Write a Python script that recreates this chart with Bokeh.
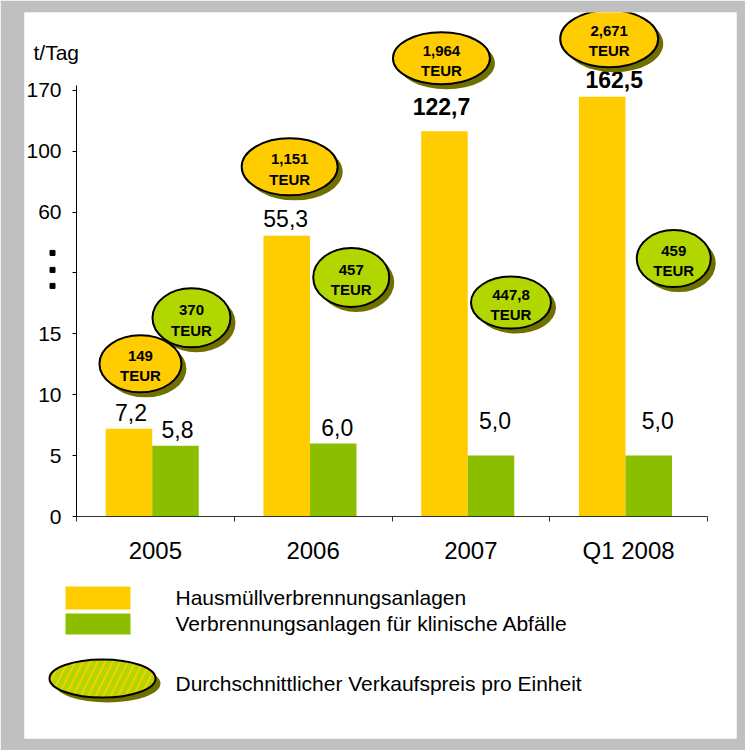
import numpy as np
from bokeh.plotting import figure
from bokeh.models import Range1d, LinearAxis, FixedTicker, ColumnDataSource
from bokeh.embed import file_html
from bokeh.resources import INLINE
from bokeh.core.properties import value

# ---------------- data ----------------
CATEGORIES = ["2005", "2006", "2007", "Q1 2008"]
HAUSMUELL = [7.2, 55.3, 122.7, 162.5]          # t/Tag
KLINISCH = [5.8, 6.0, 5.0, 5.0]                # t/Tag
PREIS_HAUSMUELL = ["149", "1,151", "1,964", "2,671"]   # TEUR
PREIS_KLINISCH = ["370", "457", "447,8", "459"]        # TEUR
Y_TICK_VALUES = [0, 5, 10, 15, 48, 60, 100, 170]       # broken-axis breakpoints
Y_TICK_LABELS = ["0", "5", "10", "15", "", "60", "100", "170"]
SERIES_NAMES = ["Hausmüllverbrennungsanlagen",
                "Verbrennungsanlagen für klinische Abfälle"]
BUBBLE_LEGEND = "Durchschnittlicher Verkaufspreis pro Einheit"
Y_UNIT = "t/Tag"
UNIT_PRICE = "TEUR"

# ---------------- styles / layout ----------------
YELLOW = "#FFCC00"
GREEN = "#8CBE00"
BUBBLE_GREEN = "#B2D600"
SHADOW = "#707000"
FRAME_GRAY = "#C0C0C0"
FONT = "Liberation Sans"

W, H = 745, 750
ML, MR, MT, MB = 24, 9, 12, 12
FRAME_W, FRAME_H = W - ML - MR, H - MT - MB
PX_X = 157.75      # pixels per category
PX_Y = 60.9        # pixels per axis step
X0_PX = 52         # frame left -> x = 0
Y0_PX = 222        # frame bottom -> y = 0
REF_X0, REF_Y0 = 76, 516   # picture position of the axis origin

BAR_W = 0.295
SPLIT = 0.48

# per-label pixel offsets (dx, gap above bar)
BASELINE_FIX = 10
VAL_DX_Y = [2, -1, -3, 12]
VAL_GAP_Y = [6, 7, 15, 7]
VAL_DX_G = [2, 4, 4, 9]
VAL_GAP_G = [6, 6, 25, 25]
VAL_BOLD_Y = [False, False, True, True]
# bubble offsets from bar top (px) and sizes (px)
BUB_OFF_Y = [(11.5, -65), (3, -69), (-3, -73), (7, -58)]
BUB_OFF_G = [(16, -128), (18, -166), (20, -153), (25, -197)]
BUB_W_Y = [82, 96, 97, 98]
BUB_H_Y = [57, 57, 52, 57]
BUB_W_G = [78, 76, 80, 74]
BUB_H_G = [59, 59, 52, 57]
SHADOW_DX, SHADOW_DY = 5, 5


def to_pos(vals):
    return np.interp(vals, Y_TICK_VALUES, np.arange(len(Y_TICK_VALUES)))


def dxd(px):
    return np.asarray(px, dtype=float) / PX_X


def dyd(px):  # screen px (down positive) -> data
    return -np.asarray(px, dtype=float) / PX_Y


def X(px):
    return (np.asarray(px, dtype=float) - REF_X0) / PX_X


def Y(py):
    return (REF_Y0 - np.asarray(py, dtype=float)) / PX_Y


def fmt(v):
    return f"{v:.1f}".replace(".", ",")


p = figure(width=W, height=H, output_backend="svg", toolbar_location=None,
           title=None, x_axis_type=None, y_axis_type=None,
           x_range=Range1d(-X0_PX / PX_X, -X0_PX / PX_X + FRAME_W / PX_X),
           y_range=Range1d(-Y0_PX / PX_Y, -Y0_PX / PX_Y + FRAME_H / PX_Y),
           min_border_left=ML, min_border_right=MR,
           min_border_top=MT, min_border_bottom=MB)
p.border_fill_color = FRAME_GRAY
p.background_fill_color = "white"
p.outline_line_color = None

xc = np.arange(len(CATEGORIES)) + SPLIT
xy = xc - BAR_W / 2
xg = xc + BAR_W / 2
ty = to_pos(HAUSMUELL)
tg = to_pos(KLINISCH)

p.vbar(x=xy, top=ty, bottom=0, width=BAR_W, fill_color=YELLOW, line_color=None)
p.vbar(x=xg, top=tg, bottom=0, width=BAR_W, fill_color=GREEN, line_color=None)

# value labels
vsrc = ColumnDataSource(dict(
    x=list(xy) + list(xg),
    y=list(ty) + list(tg),
    text=[fmt(v) for v in HAUSMUELL] + [fmt(v) for v in KLINISCH],
    dx=VAL_DX_Y + VAL_DX_G,
    dy=[-(g + BASELINE_FIX) for g in VAL_GAP_Y + VAL_GAP_G],
    style=["bold" if b else "normal" for b in VAL_BOLD_Y] + ["normal"] * 4,
))
p.text(x="x", y="y", text="text", x_offset="dx", y_offset="dy", source=vsrc,
       text_align="center", text_baseline="alphabetic",
       text_font=value(FONT), text_font_size="23px", text_font_style="style",
       text_color="black")

# price bubbles
bx = list(xy + dxd([o[0] for o in BUB_OFF_Y])) + list(xg + dxd([o[0] for o in BUB_OFF_G]))
by = list(ty + dyd([o[1] for o in BUB_OFF_Y])) + list(tg + dyd([o[1] for o in BUB_OFF_G]))
bsrc = ColumnDataSource(dict(
    x=bx, y=by,
    sx=[v + SHADOW_DX / PX_X for v in bx],
    sy=[v - SHADOW_DY / PX_Y for v in by],
    w=BUB_W_Y + BUB_W_G, h=BUB_H_Y + BUB_H_G,
    fill=[YELLOW] * 4 + [BUBBLE_GREEN] * 4,
    text=[f"{t}\n{UNIT_PRICE}" for t in PREIS_HAUSMUELL + PREIS_KLINISCH],
))
p.ellipse(x="sx", y="sy", width="w", height="h", width_units="screen",
          height_units="screen", source=bsrc, fill_color=SHADOW, line_color=None)
p.ellipse(x="x", y="y", width="w", height="h", width_units="screen",
          height_units="screen", source=bsrc, fill_color="fill",
          line_color="black", line_width=2)
p.text(x="x", y="y", text="text", source=bsrc, y_offset=2,
       text_align="center", text_baseline="middle", text_line_height=1.2,
       text_font=value(FONT), text_font_size="15px", text_font_style="bold",
       text_color="black")

# axes
xaxis = LinearAxis(
    fixed_location=0, bounds=(0, len(CATEGORIES)),
    ticker=FixedTicker(ticks=[i + 0.5 for i in range(len(CATEGORIES))],
                       minor_ticks=list(range(len(CATEGORIES) + 1))),
    major_label_overrides={i + 0.5: c for i, c in enumerate(CATEGORIES)},
    major_tick_out=0, major_tick_in=0, minor_tick_out=5, minor_tick_in=0,
    axis_line_color="#333333", minor_tick_line_color="#333333",
    major_label_text_font=FONT, major_label_text_font_size="24px",
    major_label_text_color="black", major_label_standoff=15)
p.add_layout(xaxis, "below")

yaxis = LinearAxis(
    fixed_location=0, bounds=(0, 7.08),
    ticker=FixedTicker(ticks=list(range(len(Y_TICK_VALUES)))),
    major_label_overrides={i: l for i, l in enumerate(Y_TICK_LABELS)},
    major_tick_out=4, major_tick_in=0, minor_tick_out=0, minor_tick_in=0,
    axis_line_color="black", major_tick_line_color="black",
    major_label_text_font=FONT, major_label_text_font_size="21px",
    major_label_text_color="black", major_label_standoff=11)
p.add_layout(yaxis, "left")

# axis break marker (three dots at the empty tick)
brk = Y_TICK_LABELS.index("")
p.scatter(x=[X(52)] * 3, y=[brk + dyd(d) for d in (-20, -3, 13)],
          marker="square", size=5, color="black")

# unit label
p.text(x=[X(33)], y=[Y(52)], text=[Y_UNIT], text_align="left",
       text_baseline="middle", text_font=value(FONT), text_font_size="21px",
       text_color="black")

# legend (drawn manually: mixed glyph sizes)
p.rect(x=[X(97.5)], y=[Y(597.5)], width=65, height=23, width_units="screen",
       height_units="screen", fill_color=YELLOW, line_color=None)
p.rect(x=[X(97.5)], y=[Y(623.5)], width=65, height=21, width_units="screen",
       height_units="screen", fill_color=GREEN, line_color=None)
p.ellipse(x=[X(102 + SHADOW_DX)], y=[Y(678 + SHADOW_DY)], width=106, height=38,
          width_units="screen", height_units="screen", fill_color=SHADOW,
          line_color=None)
p.ellipse(x=[X(102)], y=[Y(678)], width=106, height=38,
          width_units="screen", height_units="screen", fill_color=YELLOW,
          hatch_pattern="/", hatch_color=BUBBLE_GREEN, hatch_weight=5,
          hatch_scale=15, line_color="black", line_width=2)
p.text(x=[X(175)] * 3, y=[Y(597), Y(623), Y(683)],
       text=SERIES_NAMES + [BUBBLE_LEGEND], text_align="left",
       text_baseline="middle", text_font=value(FONT), text_font_size="21px",
       text_color="black")

open("out.html", "w").write(file_html(p, INLINE, title="Chart"))
